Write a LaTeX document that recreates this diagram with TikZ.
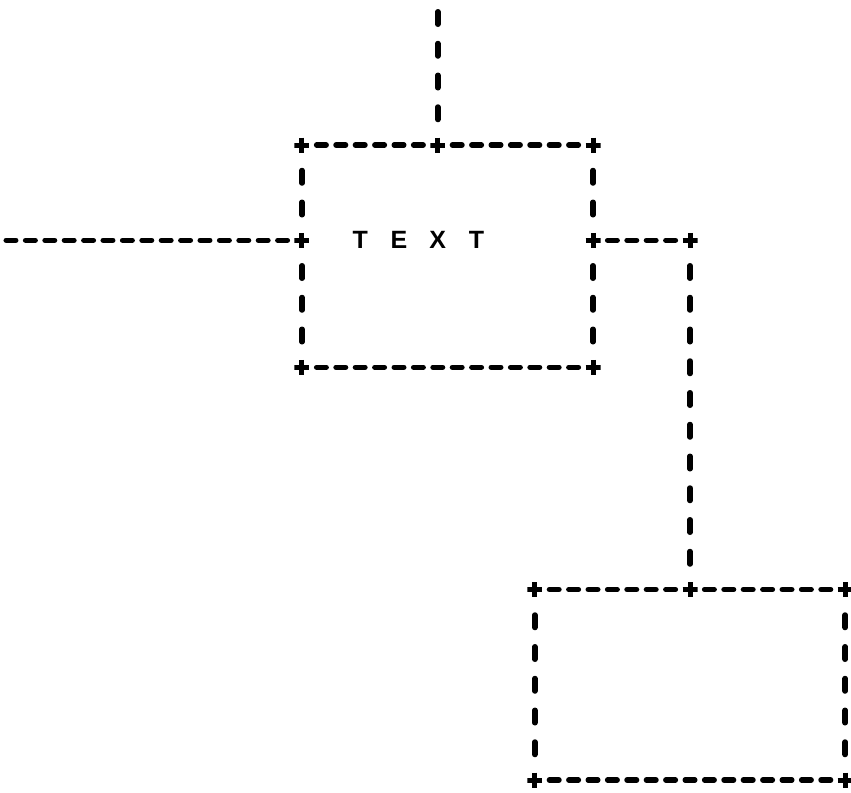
\documentclass[tikz,border=0pt]{standalone}
\usepackage{fontspec}
\setmainfont{Liberation Sans}
\begin{document}
\begin{tikzpicture}[x=19.4pt,y=-31.75pt,
  crossmark/.style={rectangle,minimum size=15pt,inner sep=0pt,
    path picture={\draw[line width=5pt]
      (path picture bounding box.north) -- (path picture bounding box.south)
      (path picture bounding box.west) -- (path picture bounding box.east);}},
  hline/.style={line width=5.5pt,line cap=round,dash pattern=on 9.5pt off 9.9pt,
    shorten <=14.65pt,shorten >=14.65pt},
  vline/.style={line width=5.5pt,line cap=round,dash pattern=on 12.5pt off 19.25pt,
    shorten <=25.5pt,shorten >=25.5pt},
  hfree/.style={line width=5.5pt,line cap=round,dash pattern=on 9.5pt off 9.9pt,
    shorten <=14.65pt,shorten >=-4.75pt},
  vfree/.style={line width=5.5pt,line cap=round,dash pattern=on 12.5pt off 19.25pt,
    shorten <=25.5pt,shorten >=-6.25pt},
  lbl/.style={inner sep=0pt,font=\fontsize{25}{25}\selectfont\bfseries}]
\useasboundingbox (-15.567,-4.567) rectangle (28.299,20.378);
% box 1 corners and junctions
\node[crossmark] (a1) at (0,0) {};
\node[crossmark] (a2) at (7,0) {};
\node[crossmark] (a3) at (15,0) {};
\node[crossmark] (a4) at (0,3) {};
\node[crossmark] (a5) at (15,3) {};
\node[crossmark] (a6) at (0,7) {};
\node[crossmark] (a7) at (15,7) {};
% connector corner
\node[crossmark] (c1) at (20,3) {};
% box 2
\node[crossmark] (b1) at (12,14) {};
\node[crossmark] (b2) at (20,14) {};
\node[crossmark] (b3) at (28,14) {};
\node[crossmark] (b4) at (12,20) {};
\node[crossmark] (b5) at (28,20) {};
% free ends
\coordinate (topend) at (7,-4);
\coordinate (leftend) at (-15,3);
% label
\node[lbl] (txt) at (6,3) {\makebox[38.8pt]{T}\makebox[38.8pt]{E}\makebox[38.8pt]{X}\makebox[38.8pt]{T}};
% box 1 edges
\draw[hline] (a1.center) -- (a2.center);
\draw[hline] (a2.center) -- (a3.center);
\draw[hline] (a6.center) -- (a7.center);
\draw[vline] (a1.center) -- (a4.center);
\draw[vline] (a4.center) -- (a6.center);
\draw[vline] (a3.center) -- (a5.center);
\draw[vline] (a5.center) -- (a7.center);
% connectors
\draw[vfree] (a2.center) -- (topend);
\draw[hfree] (a4.center) -- (leftend);
\draw[hline] (a5.center) -- (c1.center);
\draw[vline] (c1.center) -- (b2.center);
% box 2 edges
\draw[hline] (b1.center) -- (b2.center);
\draw[hline] (b2.center) -- (b3.center);
\draw[hline] (b4.center) -- (b5.center);
\draw[vline] (b1.center) -- (b4.center);
\draw[vline] (b3.center) -- (b5.center);
\end{tikzpicture}
\end{document}
